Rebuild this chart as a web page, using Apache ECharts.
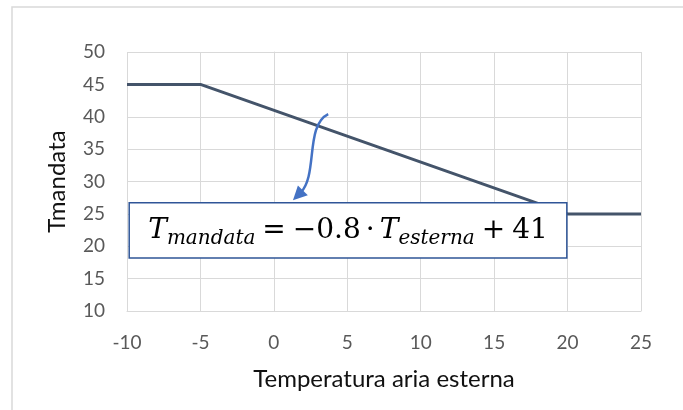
<!DOCTYPE html>
<html>
<head>
<meta charset="utf-8">
<script src="https://cdn.jsdelivr.net/npm/echarts@6/dist/echarts.min.js"></script>
<style>
  html, body { margin: 0; padding: 0; background: #fff; }
  #chart { width: 683px; height: 410px; }
</style>
</head>
<body>
<div id="chart"></div>
<script>
// Supply temperature vs. outdoor air temperature (heating curve)
const outdoorTemp = [-10, -5, 20, 25];
const supplyTemp = [45, 45, 25, 25];

const xTicks = { min: -10, max: 25, step: 5 };
const yTicks = { min: 10, max: 50, step: 5 };

// Formula box corners and arrow end points, in axis units
const boxCorners = [[-9.85, 26.7], [19.95, 18.2]];
const arrowStart = [3.7, 40.4];
const arrowTip = [1.3, 27.1];

const labelFont = 'Lato, "Open Sans", sans-serif';
const gridGray = '#d9d9d9';

const chart = echarts.init(document.getElementById('chart'), null, { renderer: 'canvas' });

chart.setOption({
  animation: false,
  backgroundColor: '#fff',
  grid: { left: 127, right: 42, top: 52, bottom: 99, containLabel: false },
  xAxis: {
    type: 'value',
    min: xTicks.min, max: xTicks.max, interval: xTicks.step,
    name: 'Temperatura aria esterna',
    nameLocation: 'middle',
    nameGap: 56,
    nameTextStyle: { fontFamily: labelFont, fontSize: 24, color: '#111' },
    axisLine: { show: true, lineStyle: { color: gridGray, width: 1 } },
    axisTick: { show: false },
    axisLabel: { fontFamily: labelFont, fontSize: 19, color: '#595959', margin: 22 },
    splitLine: { show: true, lineStyle: { color: gridGray, width: 1 } }
  },
  yAxis: {
    type: 'value',
    min: yTicks.min, max: yTicks.max, interval: yTicks.step,
    name: 'Tmandata',
    nameLocation: 'middle',
    nameGap: 58,
    nameTextStyle: { fontFamily: labelFont, fontSize: 24, color: '#111' },
    axisLine: { show: true, lineStyle: { color: gridGray, width: 1 } },
    axisTick: { show: false },
    axisLabel: { fontFamily: labelFont, fontSize: 19, color: '#595959', margin: 22 },
    splitLine: { show: true, lineStyle: { color: gridGray, width: 1 } }
  },
  series: [{
    type: 'line',
    data: outdoorTemp.map((x, i) => [x, supplyTemp[i]]),
    showSymbol: false,
    symbol: 'none',
    lineStyle: { color: '#44546a', width: 3, cap: 'butt' },
    z: 2
  }]
});

// ---- annotation: formula box with a curved arrow pointing at the line ----
const px = p => chart.convertToPixel({ gridIndex: 0 }, p);
const b0 = px(boxCorners[0]);
const b1 = px(boxCorners[1]);
const boxX = b0[0], boxY = b0[1];
const boxW = b1[0] - b0[0], boxH = b1[1] - b0[1];

const serif = '"DejaVu Serif", "Liberation Serif", serif';
const mainSize = 28, subSize = 20;
const pieces = [
  { t: 'T', italic: true, size: mainSize, sub: false, gap: 0 },
  { t: 'mandata', italic: true, size: subSize, sub: true, gap: 7 },
  { t: '=', italic: false, size: mainSize, sub: false, gap: 7 },
  { t: '\u22120.8', italic: false, size: mainSize, sub: false, gap: 5 },
  { t: '\u00b7', italic: false, size: mainSize, sub: false, gap: 5 },
  { t: 'T', italic: true, size: mainSize, sub: false, gap: 0 },
  { t: 'esterna', italic: true, size: subSize, sub: true, gap: 7 },
  { t: '+', italic: false, size: mainSize, sub: false, gap: 7 },
  { t: '41', italic: false, size: mainSize, sub: false, gap: 0 }
];

const ctx = document.createElement('canvas').getContext('2d');
const fontOf = p => (p.italic ? 'italic ' : '') + p.size + 'px ' + serif;
let total = 0;
pieces.forEach(p => {
  ctx.font = fontOf(p);
  const m = ctx.measureText(p.t);
  p.w = m.width;
  p.mid = ((m.fontBoundingBoxAscent || p.size * 0.93) - (m.fontBoundingBoxDescent || p.size * 0.24)) / 2;
  total += p.w + p.gap;
});

const baseline = boxY + boxH * 0.68;
let cx = boxX + boxW / 2 - total / 2;
const formula = pieces.map(p => {
  const base = p.sub ? baseline + 6 : baseline;
  const el = {
    type: 'text',
    x: cx,
    y: base - p.mid,
    z: 20,
    style: {
      text: p.t,
      font: fontOf(p),
      fill: '#000',
      align: 'left',
      verticalAlign: 'middle'
    }
  };
  cx += p.w + p.gap;
  return el;
});

const s = px(arrowStart);
const e = px(arrowTip);
const dx = e[0] - s[0], dy = e[1] - s[1];
// S-shaped cubic: leaves to the lower left, runs almost straight down, then bends left
const c1 = [s[0] + dx * 0.66, s[1] + dy * 0.13];
const c2 = [s[0] + dx * 0.29, s[1] + dy * 0.71];
const dir = [e[0] - c2[0], e[1] - c2[1]];
const len = Math.hypot(dir[0], dir[1]);
const u = [dir[0] / len, dir[1] / len];
const nrm = [-u[1], u[0]];
const headLen = 14, headHalf = 7;
const baseC = [e[0] - u[0] * headLen, e[1] - u[1] * headLen];

chart.setOption({
  graphic: [
    {
      type: 'rect',
      shape: { x: 12, y: 7, width: 700, height: 430 },
      style: { fill: 'none', stroke: '#d9d9d9', lineWidth: 1.5 },
      silent: true, z: 1
    },
    {
      type: 'rect',
      shape: { x: boxX, y: boxY, width: boxW, height: boxH },
      style: { fill: '#fff', stroke: '#2f5597', lineWidth: 1.5 },
      z: 10
    },
    ...formula,
    {
      type: 'bezierCurve',
      shape: {
        x1: s[0], y1: s[1],
        cpx1: c1[0], cpy1: c1[1],
        cpx2: c2[0], cpy2: c2[1],
        x2: baseC[0] + u[0] * 3, y2: baseC[1] + u[1] * 3
      },
      style: { stroke: '#4472c4', lineWidth: 2.5, fill: 'none' },
      z: 15
    },
    {
      type: 'polygon',
      shape: {
        points: [
          [e[0], e[1]],
          [baseC[0] + nrm[0] * headHalf, baseC[1] + nrm[1] * headHalf],
          [baseC[0] - nrm[0] * headHalf, baseC[1] - nrm[1] * headHalf]
        ]
      },
      style: { fill: '#4472c4' },
      z: 15
    }
  ]
});
</script>
</body>
</html>
